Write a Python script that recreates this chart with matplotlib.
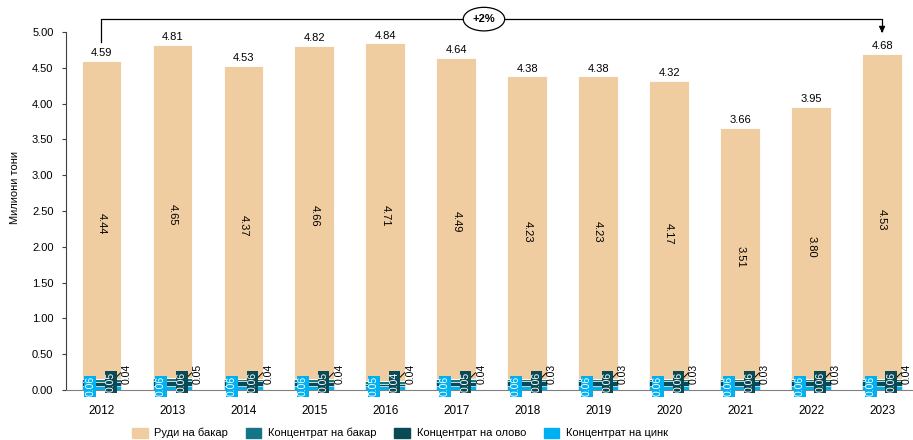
import matplotlib
matplotlib.use("Agg")
import matplotlib.pyplot as plt
import numpy as np

plt.rcParams['font.family'] = ['Liberation Sans', 'DejaVu Sans']

years = ["2012", "2013", "2014", "2015", "2016", "2017",
         "2018", "2019", "2020", "2021", "2022", "2023"]
ore_copper = [4.44, 4.65, 4.37, 4.66, 4.71, 4.49, 4.23, 4.23, 4.17, 3.51, 3.80, 4.53]
conc_copper = [0.04, 0.05, 0.04, 0.04, 0.04, 0.04, 0.03, 0.03, 0.03, 0.03, 0.03, 0.04]
conc_lead = [0.05, 0.06, 0.06, 0.05, 0.04, 0.05, 0.06, 0.06, 0.06, 0.06, 0.06, 0.06]
conc_zinc = [0.06, 0.06, 0.06, 0.06, 0.05, 0.06, 0.06, 0.06, 0.06, 0.06, 0.06, 0.06]
totals = [4.59, 4.81, 4.53, 4.82, 4.84, 4.64, 4.38, 4.38, 4.32, 3.66, 3.95, 4.68]
change_label = "+2%"

c_ore = "#F0CDA0"
c_cu = "#137585"
c_pb = "#0A4A55"
c_zn = "#00B0F0"

fig = plt.figure(figsize=(9.13, 4.4), dpi=100)
ax = fig.add_axes([66 / 913, 50 / 440, 848 / 913, 358 / 440])

x = np.arange(len(years))
w = 0.56
zn = np.array(conc_zinc)
pb = np.array(conc_lead)
cu = np.array(conc_copper)
ore = np.array(ore_copper)

ax.bar(x, zn, w, color=c_zn, edgecolor="white", linewidth=0.4)
ax.bar(x, pb, w, bottom=zn, color=c_pb, edgecolor="white", linewidth=0.4)
ax.bar(x, cu, w, bottom=zn + pb, color=c_cu, edgecolor="white", linewidth=0.4)
base = zn + pb + cu
ax.bar(x, ore, w, bottom=base, color=c_ore, edgecolor="white", linewidth=0.6)

for i in range(len(years)):
    top = base[i] + ore[i]
    ax.text(x[i], top + 0.04, f"{totals[i]:.2f}", ha="center", va="bottom", fontsize=8)
    ax.text(x[i], base[i] + ore[i] / 2 - 0.05, f"{ore[i]:.2f}", ha="center", va="center",
            rotation=-90, fontsize=8)
    ax.text(x[i] - 0.16, 0.05, f"{zn[i]:.2f}", ha="center", va="center", rotation=90,
            fontsize=7.5, color="white", clip_on=False,
            bbox=dict(boxstyle="square,pad=0.08", fc=c_zn, ec="none"))
    ax.text(x[i] + 0.13, 0.11, f"{pb[i]:.2f}", ha="center", va="center", rotation=90,
            fontsize=7.5, color="white", clip_on=False,
            bbox=dict(boxstyle="square,pad=0.08", fc=c_pb, ec="none"))
    ax.plot([x[i] + 0.21, x[i] + 0.27], [0.18, 0.24], color="black", lw=0.7)
    ax.text(x[i] + 0.35, 0.22, f"{cu[i]:.2f}", ha="center", va="center", rotation=90,
            fontsize=7.5)

# стрелка за изменението 2012 -> 2023
yb = 5.18
ax.plot([x[0], x[0], x[-1], x[-1]], [totals[0] + 0.27, yb, yb, 5.02],
        color="black", lw=0.9, clip_on=False, zorder=2)
ax.annotate("", xy=(x[-1], 4.95), xytext=(x[-1], 5.05),
            arrowprops=dict(arrowstyle="-|>", color="black", lw=0.9,
                            mutation_scale=9), annotation_clip=False)
ax.text((x[0] + x[-1]) / 2 - 0.11, yb, change_label, ha="center", va="center",
        fontsize=8, fontweight="bold", clip_on=False, zorder=10,
        bbox=dict(boxstyle="ellipse,pad=0.3", fc="white", ec="black", lw=0.9))

ax.set_xlim(-0.5, 11.45)
ax.set_ylim(0, 5)
ax.set_yticks(np.arange(0, 5.01, 0.5))
ax.set_yticklabels([f"{v:.2f}" for v in np.arange(0, 5.01, 0.5)], fontsize=8)
ax.set_xticks(x)
ax.set_xticklabels(years, fontsize=8.5)
ax.tick_params(axis="x", length=0, pad=11)
ax.tick_params(axis="y", length=3, width=0.8, color="#404040", pad=6)
for s in ["top", "right"]:
    ax.spines[s].set_visible(False)
ax.spines["left"].set_color("#404040")
ax.spines["bottom"].set_color("#808080")

fig.text(15 / 913, 1 - 188 / 440, "Милиони тони", rotation=90, ha="center",
         va="center", fontsize=8)

handles = [plt.Rectangle((0, 0), 1, 1, color=c) for c in [c_ore, c_cu, c_pb, c_zn]]
labels = ["Руди на бакар", "Концентрат на бакар", "Концентрат на олово", "Концентрат на цинк"]
fig.legend(handles, labels, ncol=4, loc="center", bbox_to_anchor=(400 / 913, 1 - 433 / 440),
           frameon=False, fontsize=8, handlelength=1.4, handleheight=1.0,
           columnspacing=1.6, handletextpad=0.6)

fig.savefig("out.png", dpi=100)
